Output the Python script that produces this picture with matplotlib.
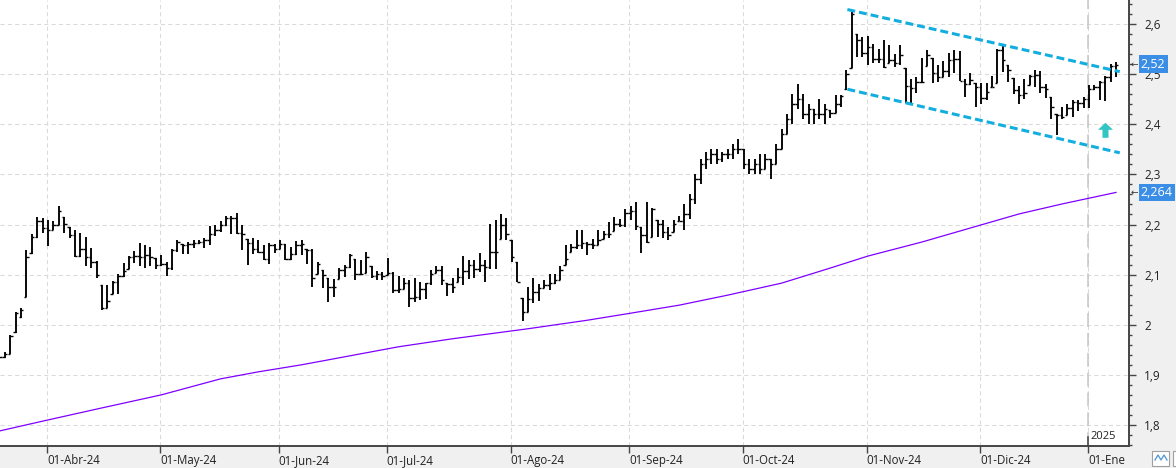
import numpy as np
import pandas as pd
import matplotlib
matplotlib.use("Agg")
import matplotlib.pyplot as plt
from matplotlib.patches import Polygon, Rectangle
from matplotlib.ticker import FixedLocator, MultipleLocator

plt.rcParams['font.family'] = ['Open Sans', 'DejaVu Sans']

# sesiones (dias habiles de la bolsa)
dias = pd.bdate_range("2024-03-18", "2025-01-09")
festivos = pd.to_datetime(["2024-03-29", "2024-04-01", "2024-05-01",
                           "2024-12-25", "2024-12-26", "2025-01-01"])
dias = dias[~dias.isin(festivos)]

maximos = [1.940, 1.945, 1.980, 2.026, 2.033, 2.149, 2.181, 2.214, 2.212, 2.209,
           2.207, 2.236, 2.214, 2.196, 2.189, 2.183, 2.176, 2.153, 2.127, 2.079,
           2.079, 2.087, 2.101, 2.123, 2.138, 2.147, 2.163, 2.159, 2.156, 2.134,
           2.139, 2.126, 2.152, 2.170, 2.162, 2.166, 2.169, 2.170, 2.174, 2.197,
           2.199, 2.206, 2.216, 2.217, 2.222, 2.199, 2.172, 2.174, 2.170, 2.159,
           2.164, 2.162, 2.169, 2.162, 2.156, 2.168, 2.170, 2.152, 2.152, 2.126,
           2.109, 2.093, 2.091, 2.113, 2.119, 2.141, 2.132, 2.130, 2.146, 2.117,
           2.108, 2.106, 2.134, 2.106, 2.097, 2.094, 2.089, 2.093, 2.086, 2.084,
           2.109, 2.117, 2.117, 2.084, 2.093, 2.114, 2.137, 2.129, 2.129, 2.144,
           2.130, 2.201, 2.209, 2.221, 2.212, 2.170, 2.126, 2.053, 2.075, 2.093,
           2.081, 2.089, 2.101, 2.101, 2.117, 2.159, 2.161, 2.190, 2.190, 2.166,
           2.172, 2.189, 2.188, 2.204, 2.214, 2.210, 2.230, 2.237, 2.244, 2.196,
           2.244, 2.232, 2.209, 2.208, 2.196, 2.209, 2.217, 2.240, 2.260, 2.300,
           2.330, 2.345, 2.350, 2.350, 2.345, 2.350, 2.360, 2.370, 2.350, 2.330,
           2.330, 2.340, 2.340, 2.330, 2.360, 2.390, 2.420, 2.460, 2.480, 2.460,
           2.440, 2.430, 2.450, 2.440, 2.428, 2.458, 2.458, 2.508, 2.625, 2.581,
           2.575, 2.576, 2.561, 2.551, 2.569, 2.558, 2.541, 2.558, 2.512, 2.490,
           2.495, 2.533, 2.548, 2.533, 2.518, 2.527, 2.543, 2.548, 2.547, 2.490,
           2.503, 2.483, 2.482, 2.483, 2.496, 2.551, 2.558, 2.518, 2.492, 2.476,
           2.490, 2.498, 2.508, 2.507, 2.480, 2.455, 2.420, 2.435, 2.440, 2.448,
           2.448, 2.454, 2.478, 2.478, 2.487, 2.496, 2.520, 2.525]

minimos = [1.933, 1.933, 1.941, 1.983, 2.014, 2.056, 2.141, 2.173, 2.184, 2.158,
           2.189, 2.200, 2.184, 2.173, 2.136, 2.136, 2.118, 2.114, 2.093, 2.030,
           2.033, 2.061, 2.061, 2.096, 2.111, 2.123, 2.118, 2.113, 2.117, 2.112,
           2.117, 2.097, 2.109, 2.146, 2.141, 2.141, 2.154, 2.162, 2.154, 2.159,
           2.177, 2.186, 2.197, 2.182, 2.182, 2.150, 2.119, 2.142, 2.144, 2.130,
           2.122, 2.144, 2.152, 2.130, 2.130, 2.139, 2.139, 2.122, 2.076, 2.102,
           2.073, 2.046, 2.056, 2.091, 2.096, 2.114, 2.089, 2.099, 2.104, 2.093,
           2.089, 2.089, 2.099, 2.063, 2.063, 2.071, 2.036, 2.046, 2.049, 2.051,
           2.079, 2.104, 2.079, 2.057, 2.064, 2.086, 2.079, 2.091, 2.094, 2.106,
           2.086, 2.112, 2.112, 2.172, 2.169, 2.126, 2.086, 2.008, 2.026, 2.044,
           2.048, 2.073, 2.069, 2.081, 2.089, 2.119, 2.146, 2.152, 2.152, 2.139,
           2.152, 2.159, 2.172, 2.174, 2.188, 2.196, 2.196, 2.209, 2.190, 2.144,
           2.164, 2.176, 2.176, 2.174, 2.169, 2.186, 2.206, 2.190, 2.210, 2.240,
           2.280, 2.310, 2.320, 2.320, 2.325, 2.330, 2.330, 2.340, 2.310, 2.300,
           2.300, 2.300, 2.310, 2.290, 2.320, 2.350, 2.380, 2.400, 2.430, 2.410,
           2.400, 2.400, 2.410, 2.400, 2.412, 2.422, 2.435, 2.468, 2.512, 2.535,
           2.535, 2.518, 2.522, 2.522, 2.512, 2.522, 2.515, 2.518, 2.442, 2.442,
           2.462, 2.482, 2.516, 2.483, 2.485, 2.494, 2.494, 2.503, 2.487, 2.454,
           2.478, 2.435, 2.440, 2.448, 2.474, 2.483, 2.505, 2.485, 2.460, 2.440,
           2.450, 2.478, 2.474, 2.463, 2.452, 2.410, 2.379, 2.410, 2.418, 2.415,
           2.427, 2.432, 2.432, 2.468, 2.448, 2.447, 2.485, 2.494]

cierres = [1.936, 1.941, 1.978, 2.023, 2.030, 2.136, 2.175, 2.207, 2.193, 2.190,
           2.200, 2.227, 2.202, 2.179, 2.137, 2.151, 2.136, 2.126, 2.100, 2.033,
           2.047, 2.085, 2.098, 2.107, 2.136, 2.138, 2.136, 2.139, 2.136, 2.119,
           2.122, 2.113, 2.150, 2.166, 2.159, 2.162, 2.164, 2.166, 2.169, 2.182,
           2.189, 2.199, 2.212, 2.212, 2.184, 2.182, 2.164, 2.152, 2.146, 2.132,
           2.159, 2.152, 2.162, 2.132, 2.142, 2.159, 2.161, 2.150, 2.093, 2.121,
           2.099, 2.075, 2.075, 2.110, 2.116, 2.139, 2.102, 2.102, 2.136, 2.097,
           2.101, 2.097, 2.104, 2.069, 2.071, 2.083, 2.053, 2.056, 2.071, 2.083,
           2.102, 2.109, 2.090, 2.081, 2.075, 2.095, 2.108, 2.119, 2.112, 2.119,
           2.116, 2.146, 2.146, 2.199, 2.182, 2.136, 2.086, 2.026, 2.051, 2.066,
           2.073, 2.079, 2.083, 2.089, 2.109, 2.132, 2.156, 2.159, 2.164, 2.162,
           2.159, 2.169, 2.181, 2.182, 2.202, 2.199, 2.222, 2.226, 2.197, 2.179,
           2.166, 2.230, 2.202, 2.186, 2.179, 2.201, 2.206, 2.220, 2.250, 2.290,
           2.320, 2.330, 2.340, 2.330, 2.340, 2.340, 2.350, 2.350, 2.320, 2.310,
           2.320, 2.310, 2.330, 2.320, 2.350, 2.380, 2.410, 2.440, 2.450, 2.420,
           2.430, 2.420, 2.420, 2.430, 2.422, 2.440, 2.456, 2.500, 2.621, 2.569,
           2.542, 2.555, 2.530, 2.530, 2.515, 2.528, 2.523, 2.538, 2.476, 2.472,
           2.485, 2.485, 2.538, 2.502, 2.494, 2.507, 2.528, 2.530, 2.487, 2.480,
           2.488, 2.474, 2.452, 2.465, 2.474, 2.549, 2.528, 2.508, 2.468, 2.458,
           2.462, 2.496, 2.498, 2.474, 2.470, 2.434, 2.418, 2.415, 2.432, 2.445,
           2.443, 2.450, 2.470, 2.474, 2.485, 2.494, 2.516, 2.518]

aperturas = [1.938, 1.936, 1.941, 1.985, 2.016, 2.056, 2.143, 2.175, 2.207, 2.193,
             2.190, 2.200, 2.214, 2.196, 2.179, 2.137, 2.151, 2.136, 2.126, 2.079,
             2.033, 2.061, 2.085, 2.098, 2.111, 2.136, 2.138, 2.136, 2.139, 2.134,
             2.119, 2.122, 2.113, 2.150, 2.162, 2.159, 2.162, 2.164, 2.166, 2.169,
             2.182, 2.189, 2.199, 2.212, 2.212, 2.184, 2.172, 2.164, 2.152, 2.146,
             2.132, 2.159, 2.152, 2.162, 2.132, 2.142, 2.159, 2.152, 2.150, 2.102,
             2.109, 2.093, 2.075, 2.091, 2.110, 2.116, 2.132, 2.102, 2.104, 2.117,
             2.097, 2.101, 2.099, 2.104, 2.069, 2.071, 2.083, 2.053, 2.056, 2.071,
             2.083, 2.104, 2.109, 2.084, 2.081, 2.086, 2.095, 2.108, 2.119, 2.112,
             2.119, 2.116, 2.146, 2.172, 2.199, 2.170, 2.126, 2.053, 2.026, 2.051,
             2.066, 2.073, 2.079, 2.083, 2.089, 2.119, 2.146, 2.156, 2.159, 2.164,
             2.162, 2.159, 2.172, 2.181, 2.188, 2.202, 2.199, 2.222, 2.226, 2.196,
             2.179, 2.176, 2.209, 2.202, 2.186, 2.186, 2.206, 2.206, 2.220, 2.250,
             2.290, 2.320, 2.330, 2.340, 2.330, 2.340, 2.340, 2.350, 2.350, 2.320,
             2.310, 2.320, 2.310, 2.330, 2.320, 2.350, 2.380, 2.410, 2.440, 2.450,
             2.420, 2.430, 2.420, 2.420, 2.428, 2.422, 2.440, 2.470, 2.513, 2.581,
             2.569, 2.542, 2.555, 2.530, 2.530, 2.522, 2.528, 2.523, 2.512, 2.476,
             2.472, 2.485, 2.516, 2.533, 2.502, 2.494, 2.507, 2.528, 2.530, 2.487,
             2.480, 2.483, 2.474, 2.452, 2.474, 2.483, 2.549, 2.518, 2.492, 2.468,
             2.458, 2.478, 2.496, 2.498, 2.474, 2.455, 2.420, 2.418, 2.418, 2.432,
             2.445, 2.443, 2.450, 2.470, 2.474, 2.485, 2.494, 2.516]

media_sesion = [0, 9, 19, 30, 41, 48, 56, 65, 74, 84, 98, 109, 117, 126, 135,
                145, 154, 161, 171, 180, 189, 197, 207]
media_valor = [1.788, 1.810, 1.834, 1.860, 1.892, 1.906, 1.920, 1.938, 1.956,
               1.972, 1.992, 2.009, 2.023, 2.039, 2.059, 2.083, 2.113, 2.137,
               2.165, 2.193, 2.221, 2.241, 2.264]

# canal bajista
canal_x = [157.2, 207.7]
canal_sup = [2.629, 2.505]
canal_inf = [2.470, 2.343]

meses = ['Ene', 'Feb', 'Mar', 'Abr', 'May', 'Jun', 'Jul', 'Ago', 'Sep', 'Oct', 'Nov', 'Dic']
ultimo = 2.52
media_ultimo = 2.264

x = np.arange(len(dias))
ticks_x = []
ticks_lab = []
for i in range(1, len(dias)):
    if dias[i].month != dias[i - 1].month:
        ticks_x.append(i - 0.2)
        if dias[i].year == 2025:
            ticks_lab.append("01-" + meses[dias[i].month - 1])
        else:
            ticks_lab.append("01-%s-%s" % (meses[dias[i].month - 1], str(dias[i].year)[2:]))

W, H = 1176, 468
fig = plt.figure(figsize=(W / 100, H / 100), dpi=100, facecolor='#f0f0f0')
ax = fig.add_axes([0, 22 / H, 1129 / W, 446 / H])
ax.set_facecolor('white')
ax.set_xlim(0.102, 209.41)
ax.set_ylim(1.758, 2.648)

# rejilla
for yv in np.arange(1.8, 2.61, 0.1):
    ax.axhline(yv, color='#dadada', lw=0.75, dashes=(4, 3), zorder=0)
for xv in ticks_x:
    ax.axvline(xv, color='#dadada', lw=0.75, dashes=(4, 3), zorder=0)

# linea de inicio de 2025
x2025 = ticks_x[-1]
ax.axvline(x2025, color='#c6c6c6', lw=1.1, dashes=(9, 4), zorder=1)
ax.axvline(x2025, ymin=0, ymax=0.021, color='#404040', lw=1.1, zorder=3)
ax.text(x2025 + 0.4, 1.7765, "2025", fontsize=8, color='#222222', va='center', ha='left')

# media movil
ax.plot(media_sesion, media_valor, color='#7f00ff', lw=0.9, zorder=2)

# barras OHLC
ax.vlines(x, minimos, maximos, color='black', lw=1.35, zorder=3)
ax.hlines(aperturas, x - 0.45, x, color='black', lw=1.0, zorder=3)
ax.hlines(cierres, x, x + 0.45, color='black', lw=1.0, zorder=3)

# canal
ax.plot(canal_x, canal_sup, color='#12aee0', lw=2.2, dashes=(2.6, 1.3), zorder=4)
ax.plot(canal_x, canal_inf, color='#12aee0', lw=2.2, dashes=(2.6, 1.3), zorder=4)

# flecha
fx = 205.05
flecha = Polygon([[fx - 0.56, 2.373], [fx + 0.56, 2.373], [fx + 0.56, 2.389],
                  [fx + 1.39, 2.389], [fx, 2.403], [fx - 1.39, 2.389],
                  [fx - 0.56, 2.389]], closed=True, fc='#33c4c4', ec='none', zorder=5)
ax.add_patch(flecha)

# ejes
for s in ['left', 'top']:
    ax.spines[s].set_visible(False)
for s in ['right', 'bottom']:
    ax.spines[s].set_color('#454545')
    ax.spines[s].set_linewidth(1.4)

ax.yaxis.tick_right()
ax.yaxis.set_major_locator(FixedLocator(np.round(np.arange(1.8, 2.61, 0.1), 1)))
ax.yaxis.set_minor_locator(MultipleLocator(0.02))
ax.set_yticklabels([("%g" % v).replace('.', ',') for v in np.round(np.arange(1.8, 2.61, 0.1), 1)])
ax.tick_params(axis='y', which='major', length=5, width=1.0, color='#454545',
               labelsize=8.5, labelcolor='#222222', pad=6)
ax.tick_params(axis='y', which='minor', length=2.5, width=1.0, color='#454545')

ax.set_xticks(ticks_x)
ax.set_xticklabels(ticks_lab, ha='left')
ax.tick_params(axis='x', which='major', length=5, width=1.0, color='#454545',
               labelsize=8.3, labelcolor='#222222', pad=0.5)

# etiquetas de ultimo valor
for v, txt in [(ultimo, "2,52"), (media_ultimo, "2,264")]:
    ax.text(1.0105, v, txt, transform=ax.get_yaxis_transform(), fontsize=9,
            color='white', va='center', ha='left', clip_on=False, zorder=10,
            bbox=dict(boxstyle='square,pad=0.18', fc='#3a8ee6', ec='none'))
    ax.text(1.0016, v, "←", transform=ax.get_yaxis_transform(), fontsize=6.5,
            color='#333333', va='center', ha='left', clip_on=False, zorder=10,
            family=['DejaVu Sans'])

# boton de la esquina
fig.patches.append(Rectangle((1152 / W, 2 / H), 17 / W, 15 / H, transform=fig.transFigure,
                             fc='white', ec='#a0a0a0', lw=0.8))
fig.lines.append(plt.Line2D(np.array([1155, 1158, 1161, 1164, 1167]) / W,
                            np.array([8, 13, 8, 13, 8]) / H, transform=fig.transFigure,
                            color='#5a9bd5', lw=1.0))
fig.patches.append(Rectangle((1173 / W, 2 / H), 10 / W, 15 / H, transform=fig.transFigure,
                             fc='white', ec='#a0a0a0', lw=0.8))

fig.savefig("out.png", dpi=100, facecolor=fig.get_facecolor())
